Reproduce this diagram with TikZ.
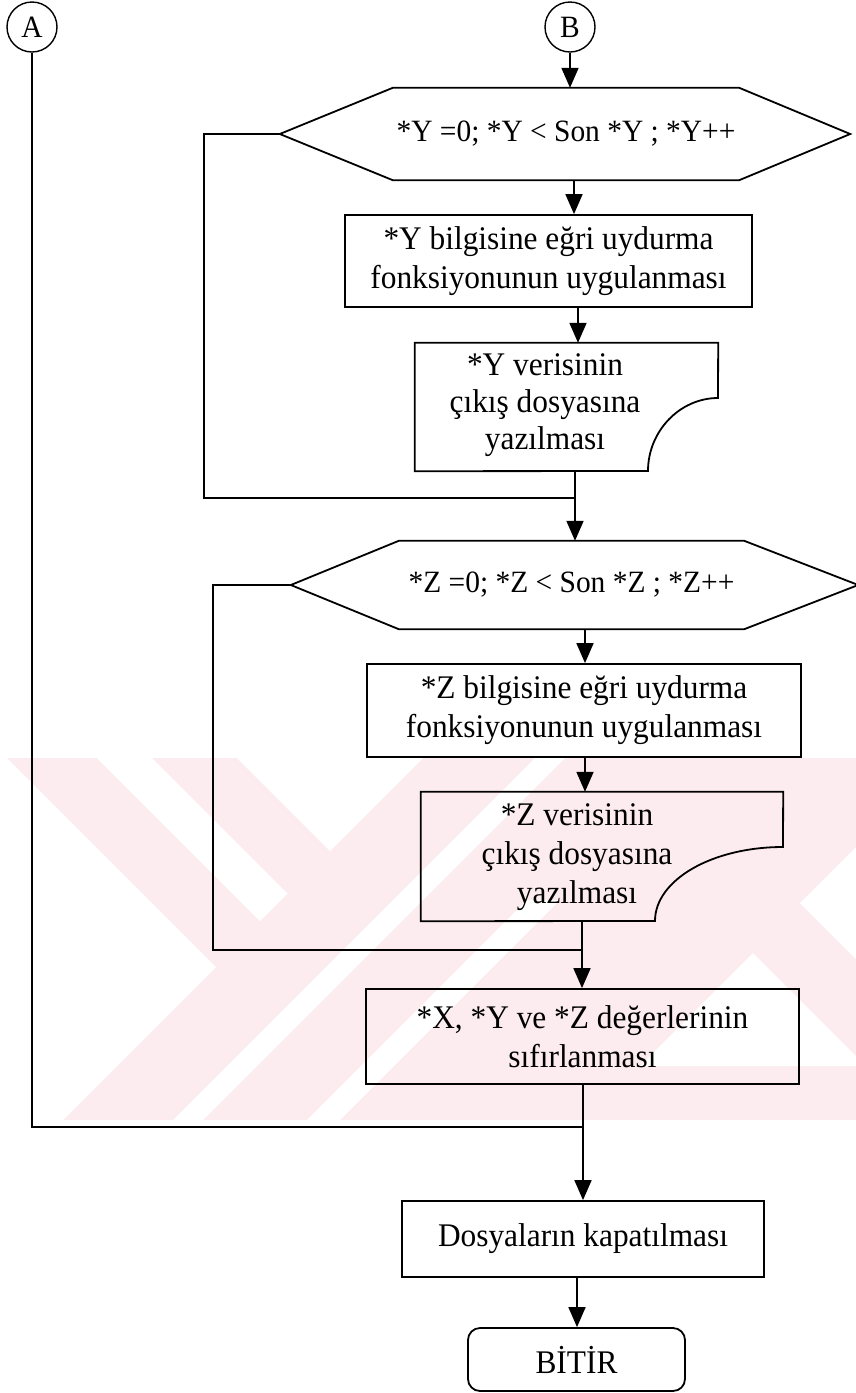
\documentclass[tikz,border=0pt]{standalone}
\usepackage{fontspec}
\setmainfont{Liberation Serif}[FakeStretch=0.95]
\usetikzlibrary{arrows.meta,calc}
\definecolor{wmpink}{RGB}{253,236,239}
\begin{document}
\begin{tikzpicture}[x=1pt,y=-1pt,
  ln/.style={line width=1.8pt,line join=miter},
  arr/.style={ln,-{Triangle[length=20pt,width=17pt]}},
  txt/.style={font=\fontsize{33}{39}\selectfont,align=center,inner sep=0pt},
  hextxt/.style={txt,font=\fontsize{31}{37}\selectfont},
  frame/.style={draw=none,minimum width=#1},
  boxn/.style={txt,draw,line width=1.8pt},
  conn/.style={circle,draw,line width=1.4pt,minimum size=50pt,inner sep=0pt,font=\fontsize{31}{36}\selectfont},
  endn/.style={txt,draw,line width=1.8pt,rounded corners=12pt}]
\useasboundingbox (0,0) rectangle (856,1393);

% faint background stamp
\begin{scope}
  \clip (0,758) rectangle (856,1120);
  \fill[wmpink] (0,758) rectangle (856,1120);
  \fill[white] (0,751) -- (216,967) -- (63,1120) -- (0,1120) -- cycle;
  \fill[white] (97,758) -- (152,758) -- (287.5,893.5) -- (260,921) -- cycle;
  \fill[white] (237,758) -- (330,851) -- (423,758) -- cycle;
  \fill[white] (173,1120) -- (203,1120) -- (565,758) -- (535,758) -- cycle;
  \fill[white] (307,1120) -- (340,1120) -- (560,900) -- (527,900) -- cycle;
  \fill[white] (870,833) -- (800,903) -- (870,973) -- cycle;
  \fill[white] (753,953) -- (640,1066) -- (866,1066) -- cycle;
\end{scope}

% connectors
\node[conn] (A) at (32,27) {A};
\node[conn] (B) at (570,27) {B};

% first loop
\node[hextxt,frame=346pt,minimum height=92pt] (hex1) at (566,134) {*Y =0; *Y < Son *Y ; *Y++};
\coordinate (hex1L) at ($(hex1.west)-(113,0)$);
\coordinate (hex1R) at ($(hex1.east)+(111,0)$);
\draw[ln] (hex1.north west) -- (hex1.north east) -- (hex1R) -- (hex1.south east)
  -- (hex1.south west) -- (hex1L) -- cycle;

\node[boxn,minimum width=407pt,minimum height=92pt] (box1) at (548.5,261)
  {*Y bilgisine eğri uydurma\\fonksiyonunun uygulanması};

\node[frame=303pt,minimum height=128pt] (docY) at (566.5,407) {};
\draw[ln] (docY.south west) -- (docY.north west) -- (docY.north east) -- (718,398)
  .. controls (680,398) and (648,431) .. (648,471) -- cycle;
\node[txt,font=\fontsize{33}{37}\selectfont] (docYt) at (545,405) {*Y verisinin\\çıkış dosyasına\\yazılması};

% second loop
\node[hextxt,frame=345pt,minimum height=88pt] (hex2) at (571.5,585) {*Z =0; *Z < Son *Z ; *Z++};
\coordinate (hex2L) at ($(hex2.west)-(108,0)$);
\coordinate (hex2R) at ($(hex2.east)+(114,0)$);
\draw[ln] (hex2.north west) -- (hex2.north east) -- (hex2R) -- (hex2.south east)
  -- (hex2.south west) -- (hex2L) -- cycle;

\node[boxn,minimum width=434pt,minimum height=93pt] (boxZ) at (584,710.5)
  {*Z bilgisine eğri uydurma\\fonksiyonunun uygulanması};

\node[frame=362pt,minimum height=129pt] (docZ) at (602,856.5) {};
\draw[ln] (docZ.south west) -- (docZ.north west) -- (docZ.north east) -- (783,847)
  .. controls (712,847) and (655,880) .. (655,921) -- cycle;
\node[txt] (docZt) at (577,857) {*Z verisinin\\çıkış dosyasına\\yazılması};

\node[boxn,minimum width=433pt,minimum height=95pt] (boxX) at (582.5,1036.5)
  {*X, *Y ve *Z değerlerinin\\sıfırlanması};

\node[boxn,minimum width=362pt,minimum height=76pt] (close) at (583,1239)
  {Dosyaların kapatılması};

\node[endn,minimum width=217pt,minimum height=63pt] (stop) at (576.5,1359.5) {BİTİR};

% vertical guide positions
\coordinate (c1) at (574,0);
\coordinate (c2) at (578,0);
\coordinate (c3) at (575,0);
\coordinate (c4) at (585,0);
\coordinate (c5) at (582,0);
\coordinate (c6) at (583,0);
\coordinate (c7) at (577,0);
\coordinate (loopY) at (204,0);
\coordinate (loopZ) at (213,0);
\coordinate (jY) at (575,498);
\coordinate (jZ) at (582,950);
\coordinate (jA) at (583,1127);

% flow
\draw[arr] (B) -- (B |- hex1.north);
\draw[arr] (c1 |- hex1.south) -- (c1 |- box1.north);
\draw[arr] (c2 |- box1.south) -- (c2 |- docY.north);
\draw[arr] (c3 |- docY.south) -- (c3 |- hex2.north);
\draw[ln] (jY) -| (loopY |- hex1L) -- (hex1L);
\draw[arr] (c4 |- hex2.south) -- (c4 |- boxZ.north);
\draw[arr] (c4 |- boxZ.south) -- (c4 |- docZ.north);
\draw[arr] (c5 |- docZ.south) -- (c5 |- boxX.north);
\draw[ln] (jZ) -| (loopZ |- hex2L) -- (hex2L);
\draw[arr] (c6 |- boxX.south) -- (c6 |- close.north);
\draw[ln] (A) |- (jA);
\draw[arr] (c7 |- close.south) -- (c7 |- stop.north);
\end{tikzpicture}
\end{document}
